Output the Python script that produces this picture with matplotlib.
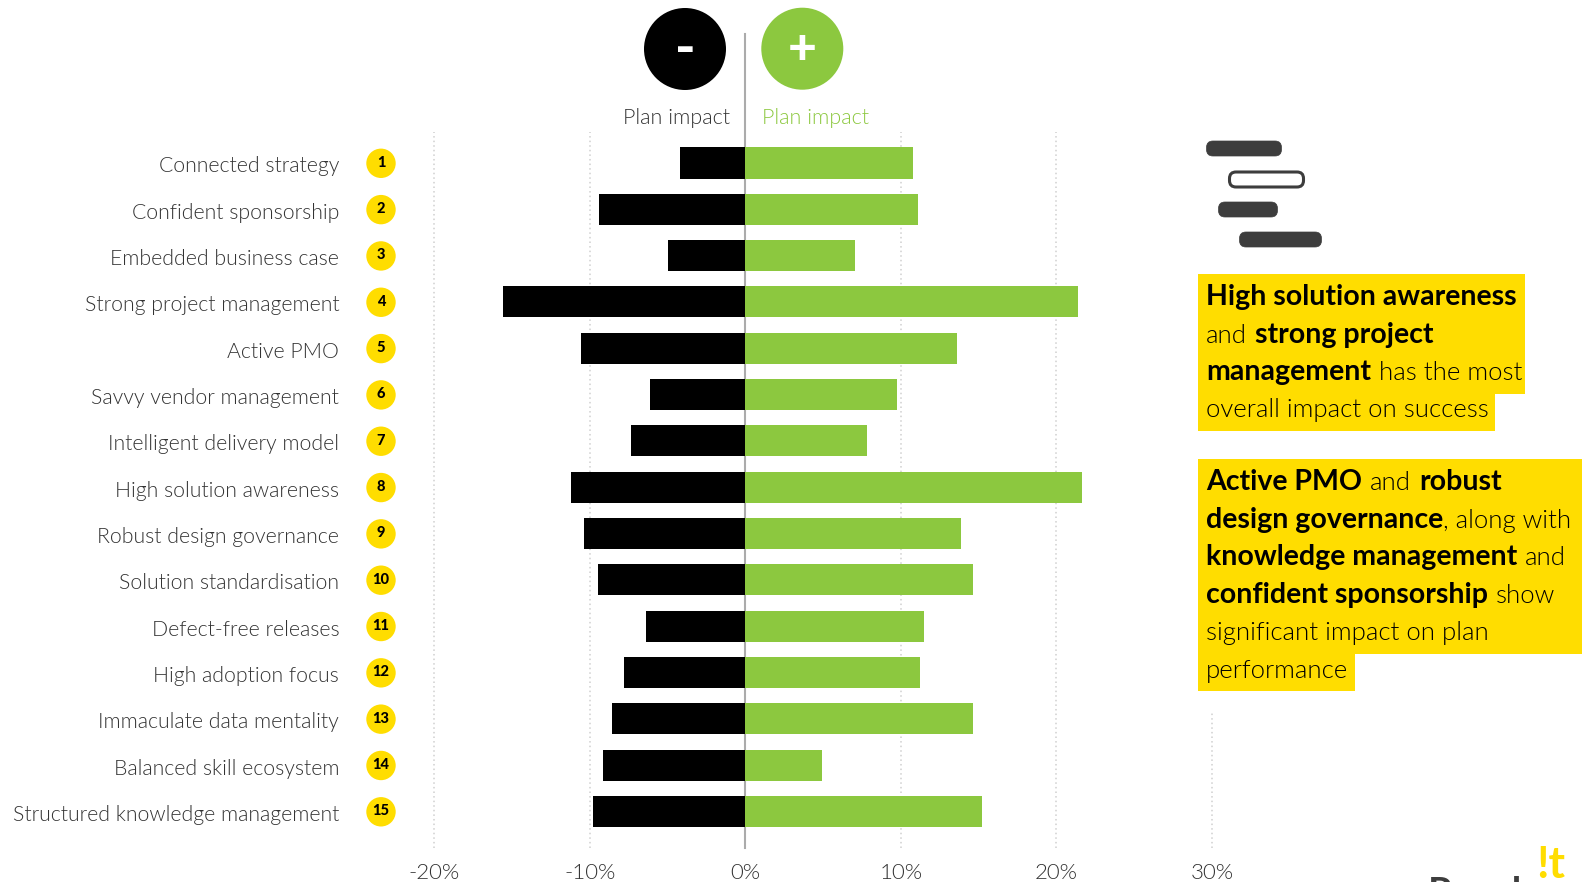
import matplotlib
matplotlib.use("Agg")
import matplotlib.pyplot as plt
from matplotlib.patches import Circle, Rectangle, FancyBboxPatch
from matplotlib.transforms import Affine2D

W, H = 1589, 882
GREEN = "#8CC83F"
YELLOW = "#FFDD00"
DARK = "#333333"
ICON = "#3D3D3D"
FONT = "Lato"

categories = [
    "Connected strategy", "Confident sponsorship", "Embedded business case",
    "Strong project management", "Active PMO", "Savvy vendor management",
    "Intelligent delivery model", "High solution awareness",
    "Robust design governance", "Solution standardisation",
    "Defect-free releases", "High adoption focus",
    "Immaculate data mentality", "Balanced skill ecosystem",
    "Structured knowledge management",
]
negative_impact = [-4.22, -9.38, -4.95, -15.57, -10.55, -6.12, -7.35, -11.2,
                   -10.36, -9.45, -6.38, -7.8, -8.58, -9.17, -9.77]
positive_impact = [10.8, 11.1, 7.05, 21.4, 13.6, 9.75, 7.85, 21.65,
                   13.85, 14.65, 11.5, 11.25, 14.65, 4.95, 15.2]
x_ticks = [-20, -10, 0, 10, 20, 30]

note_one = [
    [("High solution awareness", True)],
    [("and", False), ("strong project", True)],
    [("management", True), ("has the most", False)],
    [("overall impact on success", False)],
]
note_two = [
    [("Active PMO", True), ("and", False), ("robust", True)],
    [("design governance", True), (", along with", False)],
    [("knowledge management", True), ("and", False)],
    [("confident sponsorship", True), ("show", False)],
    [("significant impact on plan", False)],
    [("performance", False)],
]

plt.rcParams["font.family"] = [FONT, "DejaVu Sans"]
fig = plt.figure(figsize=(W / 100, H / 100), dpi=100)

# Chart axes: -20%..30% across, fifteen rows down
left, right, top, bottom = 434.3, 1212.0, 134.0, 848.0
row_first, row_last = 163.0, 811.5
row_step = (row_last - row_first) / 14
ax = fig.add_axes([left / W, 1 - bottom / H, (right - left) / W, (bottom - top) / H])
ax.set_xlim(-20, 30)
ax.set_ylim(14 + (bottom - row_last) / row_step, -(row_first - top) / row_step)
ax.patch.set_alpha(0)
for spine in ax.spines.values():
    spine.set_visible(False)

rows = range(len(categories))
ax.barh(rows, negative_impact, height=0.67, color="black", zorder=3)
ax.barh(rows, positive_impact, height=0.67, color=GREEN, zorder=3)

for t in x_ticks:
    if t == 0:
        continue
    upper = 1.003 if t != 30 else (bottom - 713) / (bottom - top)
    ax.axvline(t, ymin=0, ymax=upper, color="#CFCFCF", lw=1.1, ls=(0, (1, 2)),
               zorder=1, clip_on=False)
ax.axvline(0, ymin=0, ymax=(bottom - 34) / (bottom - top), color="#ABABAB", lw=1.5,
           clip_on=False, zorder=2)

ax.set_yticks(list(rows), categories)
ax.set_xticks(x_ticks, [f"{t}%" for t in x_ticks])
ax.tick_params(axis="both", length=0)
ax.tick_params(axis="y", pad=68.5)
ax.tick_params(axis="x", pad=10.5)
for lab in ax.get_yticklabels():
    lab.set(fontsize=15.35, fontweight=300, color=DARK, va="center_baseline")
    lab.set_transform(lab.get_transform() + Affine2D().translate(0, -1.5))
for lab in ax.get_xticklabels():
    lab.set(fontsize=16, fontweight=300, color=DARK)

# Overlay in pixel units for badges, headers, notes and the small icon
ov = fig.add_axes([0, 0, 1, 1], zorder=5)
ov.set_xlim(0, W)
ov.set_ylim(H, 0)
ov.axis("off")

for i in rows:
    cy = 163.3 + i * row_step
    ov.add_patch(Circle((381, cy), 14.7, color=YELLOW, lw=0))
    ov.text(381, cy - 0.5, str(i + 1), ha="center", va="center", fontsize=10.5,
            fontweight=900, color="black")

ov.add_patch(Circle((685, 49), 41, color="black", lw=0))
ov.add_patch(Circle((802.3, 48.7), 41, color=GREEN, lw=0))
ov.text(685, 50, "-", ha="center", va="center", fontsize=40, fontweight=900, color="white")
ov.text(802.3, 50, "+", ha="center", va="center", fontsize=36, fontweight=900, color="white")
ov.text(730.5, 124, "Plan impact", ha="right", va="baseline", fontsize=15.5,
        fontweight=300, color=DARK)
ov.text(761.5, 124, "Plan impact", ha="left", va="baseline", fontsize=15.5,
        fontweight=300, color=GREEN)

# Rounded schedule icon
for x0, x1, y0, filled in [(1206, 1282, 141, True), (1229, 1304, 172, False),
                           (1218, 1278, 202, True), (1239, 1322, 232, True)]:
    ov.add_patch(FancyBboxPatch(
        (x0 + 7, y0 + 6.5), x1 - x0 - 14, 2, boxstyle="round,pad=6.5,rounding_size=6.5",
        fc=ICON if filled else "white", ec=ICON, lw=2.2 if not filled else 0.5))

# Highlighted notes
ov.add_patch(Rectangle((1198, 274), 327, 120, color=YELLOW, lw=0))
ov.add_patch(Rectangle((1198, 394), 297, 37, color=YELLOW, lw=0))
ov.add_patch(Rectangle((1198, 459), 384, 195, color=YELLOW, lw=0))
ov.add_patch(Rectangle((1198, 654), 157, 37, color=YELLOW, lw=0))


def draw_runs(lines, baselines, x_start=1206, gap=8):
    """Lay out mixed-weight text runs one after another on each baseline."""
    renderer = fig.canvas.get_renderer()
    for runs, base in zip(lines, baselines):
        x = x_start
        for text, bold in runs:
            if text.startswith(","):
                x -= gap
            t = ov.text(x, base, text, ha="left", va="baseline", color="black",
                        fontsize=20.5 if bold else 18.5, fontweight=700 if bold else 300)
            x = ov.transData.inverted().transform(t.get_window_extent(renderer))[1][0] + gap


draw_runs(note_one, [305, 343, 380, 417])
draw_runs(note_two, [490, 528, 565, 603, 640, 678])

# Wordmark cut off by the lower edge of the canvas
ov.text(1428, 905, "Resul", ha="left", va="baseline", fontsize=28, fontweight=700,
        color=ICON, clip_on=True)
ov.text(1536, 878, "!t", ha="left", va="baseline", fontsize=32, fontweight=700,
        color=YELLOW, clip_on=True)

fig.savefig("out.png", dpi=100)
